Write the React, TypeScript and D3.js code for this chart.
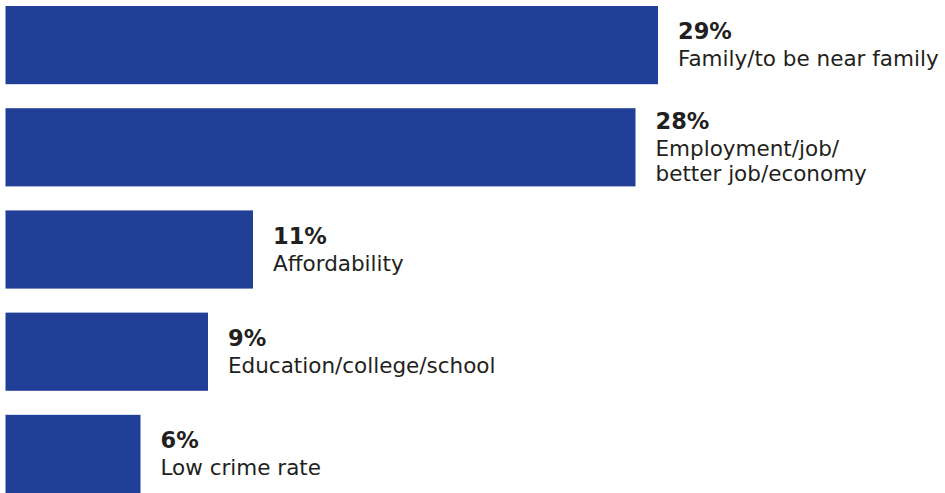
import React from "react";
import * as d3 from "d3";

const categories: string[][] = [
  ["Family/to be near family"],
  ["Employment/job/", "better job/economy"],
  ["Affordability"],
  ["Education/college/school"],
  ["Low crime rate"],
];
const values: number[] = [29, 28, 11, 9, 6];
const valueLabels: string[] = ["29%", "28%", "11%", "9%", "6%"];

const W = 945;
const H = 493;
const BAR_COLOR = "#223f98";
const TEXT_COLOR = "#231f20";
const FONT = "'DejaVu Sans', sans-serif";

export default function App() {
  const x = d3.scaleLinear().domain([0, 29]).range([5.5, 658]);
  const y = d3
    .scaleBand<number>()
    .domain(d3.range(values.length))
    .range([6, 493])
    .paddingInner(0.235)
    .paddingOuter(0);

  const lineGap = 24.5;
  const pctGap = 27;

  return (
    <svg
      width={W}
      height={H}
      style={{ position: "absolute", left: 0, top: 0, display: "block" }}
    >
      <rect width={W} height={H} fill="#fff" />
      {values.map((v, i) => {
        const y0 = y(i)!;
        const bh = y.bandwidth();
        const cy = y0 + bh / 2;
        const lines = categories[i];
        // stack percent + label lines, centred on the bar
        const blockH = pctGap + (lines.length - 1) * lineGap;
        const pctBase = cy - blockH / 2 + 7.5;
        const tx = x(v) + 20;
        return (
          <g key={i}>
            <rect x={x(0)} y={y0} width={x(v) - x(0)} height={bh} fill={BAR_COLOR} />
            <text
              x={tx}
              y={pctBase}
              fontFamily={FONT}
              fontWeight={700}
              fontSize={22.5}
              fill={TEXT_COLOR}
            >
              {valueLabels[i]}
            </text>
            {lines.map((ln, j) => (
              <text
                key={j}
                x={tx}
                y={pctBase + pctGap + j * lineGap}
                fontFamily={FONT}
                fontSize={21.5}
                fill={TEXT_COLOR}
              >
                {ln}
              </text>
            ))}
          </g>
        );
      })}
    </svg>
  );
}
